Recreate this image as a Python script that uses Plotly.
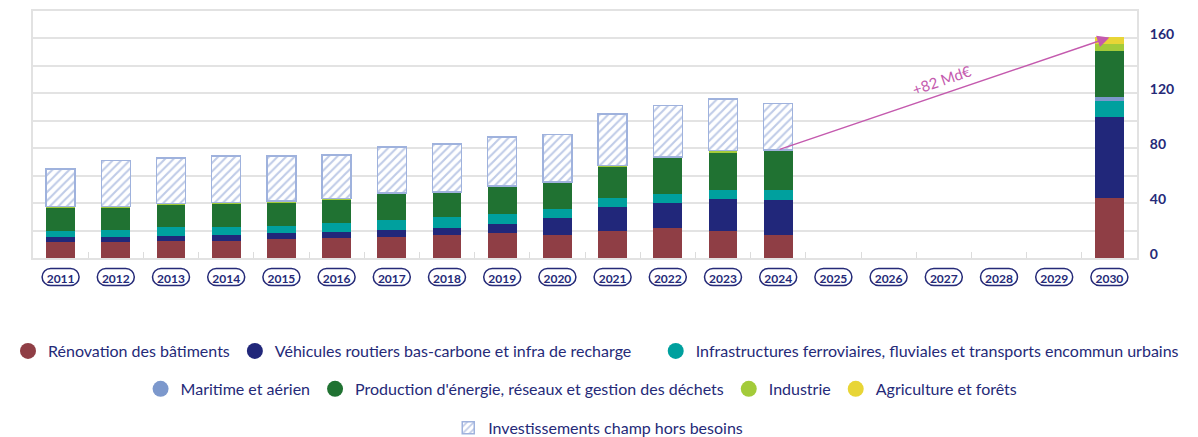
import plotly.graph_objects as go

years = [str(y) for y in range(2011, 2031)]

# Md€ par poste (2025-2029 vides)
renovation = [12, 12, 12.6, 12.6, 14, 14.8, 15.3, 16.7, 18.2, 16.7, 19.6, 21.8, 19.6, 16.7,
              None, None, None, None, None, 43.6]
vehicules = [3.4, 3.4, 3.4, 4.1, 4.2, 4.1, 5.1, 5.1, 6.5, 12.4, 17.5, 18.2, 23.3, 25.5,
             None, None, None, None, None, 58.9]
infra_ferro = [4.3, 5.1, 6.5, 5.8, 5.1, 6.8, 7.2, 8.0, 7.3, 6.5, 6.5, 6.5, 6.6, 7.3,
               None, None, None, None, None, 11.7]
maritime = [0, 0, 0, 0, 0, 0, 0, 0, 0, 0, 0, 0, 0, 0,
            None, None, None, None, None, 2.9]
energie = [17.2, 16.4, 16.5, 17.3, 17.4, 16.7, 19.2, 17.7, 19.9, 19.2, 22.8, 26.5, 27.1, 28.5,
           None, None, None, None, None, 33.4]
industrie = [0.5, 0.5, 0.8, 0.7, 0.8, 0.8, 0.7, 0.7, 0.7, 0.7, 1.0, 0.7, 1.9, 0.8,
             None, None, None, None, None, 5.1]
agriculture = [0, 0, 0, 0, 0, 0, 0, 0, 0, 0, 0, 0, 0, 0,
               None, None, None, None, None, 5.1]
hors_besoins = [27.4, 33.7, 33.2, 33.7, 32.7, 31.7, 33.5, 34.7, 35.4, 34.4, 37.6, 37.3, 37.5, 33.9,
                None, None, None, None, None, None]

series = [
    ("Rénovation des bâtiments", renovation, "#8f3e45", "legend"),
    ("Véhicules routiers bas-carbone et infra de recharge", vehicules, "#21277a", "legend"),
    ("Infrastructures ferroviaires, fluviales et transports encommun urbains", infra_ferro, "#00a09e", "legend4"),
    ("Maritime et aérien", maritime, "#7c98cc", "legend2"),
    ("Production d'énergie, réseaux et gestion des déchets", energie, "#207232", "legend2"),
    ("Industrie", industrie, "#a3cb3a", "legend2"),
    ("Agriculture et forêts", agriculture, "#e8d536", "legend2"),
]

NAVY = "#252a78"
FONT = "Lato"
# la page ajoute 8 px de marge autour du graphique
W, H = 1190, 429

fig = go.Figure()

for name, vals, color, lg in series:
    fig.add_trace(go.Bar(x=years, y=vals, name=name, marker_color=color,
                         marker_line_width=0, showlegend=False))
    # pastille ronde pour la légende
    fig.add_trace(go.Scatter(x=[None], y=[None], mode="markers", name=name, legend=lg,
                             marker=dict(symbol="circle", size=18, color=color)))

fig.add_trace(go.Bar(x=years, y=hors_besoins, name="Investissements champ hors besoins",
                     legend="legend3",
                     marker=dict(color="white",
                                 line=dict(color="#9fb2dd", width=1.5),
                                 pattern=dict(shape="/", fgcolor="#7f97d0", bgcolor="white",
                                              size=6, solidity=0.35))))

# flèche d'évolution 2024 -> 2030
i24, i30 = years.index("2024"), years.index("2030")
top_2024 = sum(s[1][i24] for s in series)
top_2030 = sum(s[1][i30] for s in series)
fig.add_annotation(x=i30, y=top_2030, ax=i24, ay=top_2024, axref="x", ayref="y",
                   xref="x", yref="y", text="", showarrow=True, arrowhead=2,
                   arrowsize=1.6, arrowwidth=1.5, arrowcolor="#c45aae")
fig.add_annotation(x=15.95, y=130, xref="x", yref="y",
                   text=f"+{round(top_2030 - top_2024)} Md€", showarrow=False,
                   textangle=-19, font=dict(family=FONT, size=15, color="#c45aae"))

# pilules autour des années
pill = ("M -10,-8.5 L 10,-8.5 C 14.7,-8.5 18.5,-4.7 18.5,0 C 18.5,4.7 14.7,8.5 10,8.5 "
        "L -10,8.5 C -14.7,8.5 -18.5,4.7 -18.5,0 C -18.5,-4.7 -14.7,-8.5 -10,-8.5 Z")
for i, y in enumerate(years):
    fig.add_shape(type="path", path=pill, xref="x", yref="paper",
                  xsizemode="pixel", ysizemode="pixel", xanchor=i, yanchor=-0.077,
                  line=dict(color=NAVY, width=1.5), fillcolor="rgba(0,0,0,0)", layer="above")

legend_common = dict(orientation="h", xref="container", yref="paper",
                     yanchor="middle", traceorder="normal",
                     font=dict(family=FONT, size=16, color=NAVY), bgcolor="rgba(0,0,0,0)")

fig.update_layout(
    width=W, height=H,
    margin=dict(l=25, r=61, t=3, b=179, autoexpand=False),
    barmode="stack", bargap=0.475,
    paper_bgcolor="white", plot_bgcolor="white",
    font=dict(family=FONT, color=NAVY),
    legend=dict(y=-0.3765, x=-0.013, xanchor="left", **legend_common),
    legend4=dict(y=-0.3765, x=0.988, xanchor="right", **legend_common),
    legend2=dict(y=-0.530, x=0.482, xanchor="center", **legend_common),
    legend3=dict(y=-0.688, x=0.496, xanchor="center", **legend_common),
    xaxis=dict(type="category", range=[-0.5, 19.5], showgrid=False,
               showline=True, linecolor="#e2e2e2", linewidth=2, mirror=True,
               ticks="inside", tickson="boundaries", ticklen=6, tickcolor="#dcdcdc",
               ticklabelstandoff=9,
               tickfont=dict(family=FONT, size=12, color=NAVY, weight="bold")),
    yaxis=dict(side="right", range=[0, 180], dtick=40, tick0=0,
               showgrid=True, gridcolor="#e3e3e3", gridwidth=1.5,
               minor=dict(dtick=20, showgrid=True, gridcolor="#e3e3e3", gridwidth=1.5),
               showline=True, linecolor="#e2e2e2", linewidth=2, mirror=True,
               zeroline=False, ticks="", ticklabelstandoff=8, ticklabelshift=-4,
               tickfont=dict(family=FONT, size=14, color=NAVY, weight="bold")),
)

fig.write_html("out.html")
